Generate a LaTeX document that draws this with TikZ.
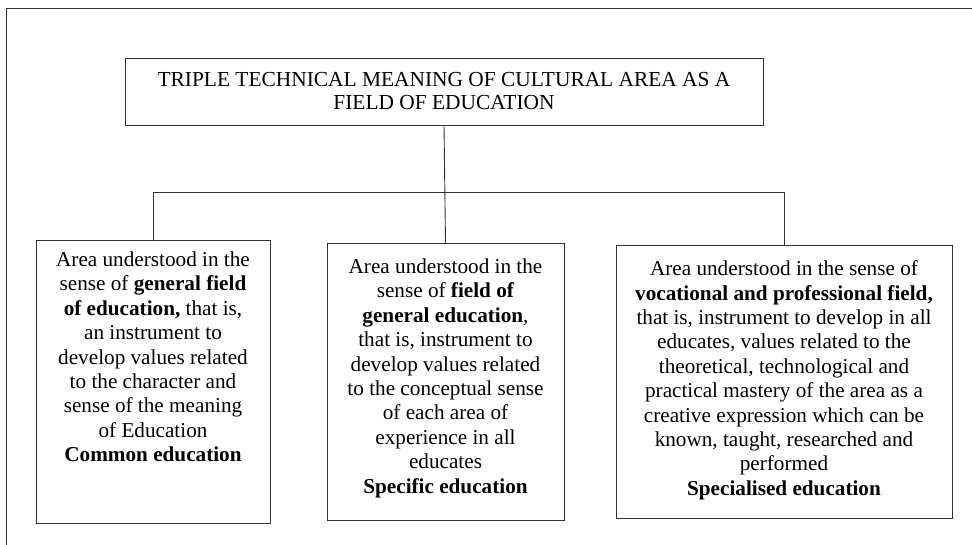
\documentclass[tikz,border=0pt]{standalone}
\usepackage{fontspec}
\setmainfont{Liberation Serif}
\begin{document}
\begin{tikzpicture}[x=1pt,y=-1pt,
  line/.style={draw=black!80, line width=0.9pt},
  box/.style={line, rectangle, inner sep=0pt, outer sep=0pt, anchor=north west},
  txt/.style={align=center, inner sep=0pt, anchor=north, font=\fontsize{21.2}{24.4}\selectfont}]
\useasboundingbox (0,0) rectangle (972,545);
% outer frame
\draw[line] (6,545) -- (6,8) -- (972,8);
% boxes
\node[box, minimum width=638pt, minimum height=67pt] (T) at (125,58) {};
\node[box, minimum width=234pt, minimum height=283pt] (L) at (36,240) {};
\node[box, minimum width=237pt, minimum height=277pt] (M) at (327,243) {};
\node[box, minimum width=336pt, minimum height=273pt] (R) at (616,245) {};
% texts
\node[txt, font=\fontsize{21.4}{23}\selectfont] (Tt) at (444,72.5) {TRIPLE TECHNICAL MEANING OF CULTURAL AREA AS A\\FIELD OF EDUCATION};
\node[txt] (Lt) at (153,251.5) {Area understood in the\\sense of \textbf{general field}\\\textbf{of education,} that is,\\an instrument to\\develop values related\\to the character and\\sense of the meaning\\of Education\\\textbf{Common education}};
\node[txt] (Mt) at (445.5,258.5) {Area understood in the\\sense of \textbf{field of}\\\textbf{general education},\\that is, instrument to\\develop values related\\to the conceptual sense\\of each area of\\experience in all\\educates\\\textbf{Specific education}};
\node[txt] (Rt) at (784,260.5) {Area understood in the sense of\\\textbf{vocational and professional field,}\\that is, instrument to develop in all\\educates, values related to the\\theoretical, technological and\\practical mastery of the area as a\\creative expression which can be\\known, taught, researched and\\performed\\\textbf{Specialised education}};
% connectors
\coordinate (j) at (445,192);
\draw[line] (T.south) -- (M.north);
\draw[line] (L.north) -- (L.north |- j) -- (R.north |- j) -- (R.north);
\end{tikzpicture}
\end{document}
